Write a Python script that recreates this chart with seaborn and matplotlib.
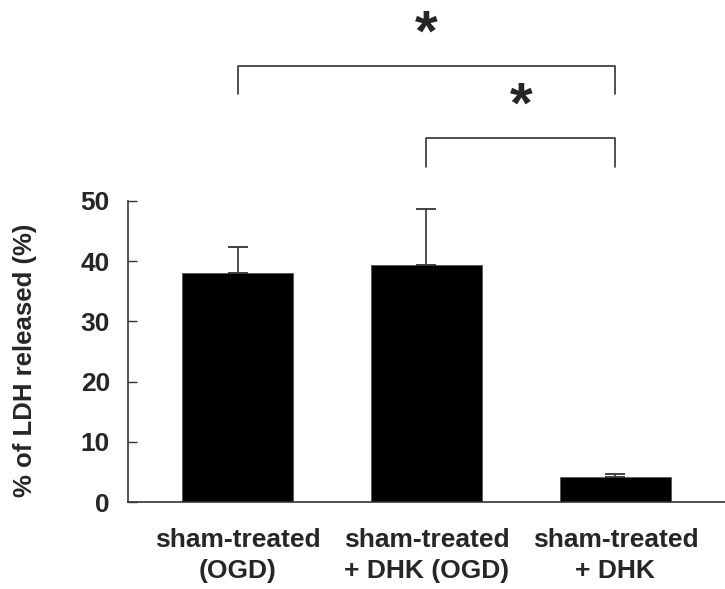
import matplotlib
matplotlib.use("Agg")
import matplotlib.pyplot as plt
import seaborn as sns
import numpy as np
import pandas as pd

categories = ["sham-treated\n(OGD)", "sham-treated\n+ DHK (OGD)", "sham-treated\n+ DHK"]
values = [38.1, 39.4, 4.1]
errors = [4.2, 9.3, 0.55]
yticks = [0, 10, 20, 30, 40, 50]
ylabel = "% of LDH released (%)"
# significance brackets: (left bar index, right bar index, bar-top level, line level, star label)
brackets = [(0, 2, 67.8, 72.5, "*"), (1, 2, 55.6, 60.5, "*")]

sns.set_style("ticks")
plt.rcParams["font.family"] = ["Liberation Sans", "DejaVu Sans"]
plt.rcParams["font.weight"] = "bold"

fig = plt.figure(figsize=(7.25, 5.89), dpi=100)
ax = fig.add_axes([128 / 725, 87 / 589, 1 - 128 / 725, 301 / 589])

df = pd.DataFrame({"group": categories, "value": values})
sns.barplot(data=df, x="group", y="value", color="black", width=0.59,
            saturation=1, edgecolor="#555555", linewidth=0.6, ax=ax, errorbar=None)

xs = np.arange(len(values))
ax.errorbar(xs, values, yerr=[np.zeros(len(errors)), errors], fmt="none",
            ecolor="#333333", elinewidth=1.2, capsize=7.5, capthick=1.3)

ax.set_xlim(-0.58, 2.58)
ax.set_ylim(0, 50)
ax.set_yticks(yticks)
ax.set_yticklabels([str(t) for t in yticks], fontsize=19, fontweight="bold")
ax.tick_params(axis="y", direction="in", length=6.5, width=1.0, color="#333333", pad=13)
ax.tick_params(axis="x", length=0, pad=19)
for lab in ax.get_xticklabels():
    lab.set_fontsize(19)
    lab.set_fontweight("bold")
    lab.set_linespacing(1.35)

ax.set_xlabel("")
ax.set_ylabel(ylabel, fontsize=18.5, fontweight="bold")
ax.yaxis.set_label_coords(-0.152, 0.47)

for s in ["top", "right"]:
    ax.spines[s].set_visible(False)
for s in ["left", "bottom"]:
    ax.spines[s].set_color("#333333")
    ax.spines[s].set_linewidth(1.2)

for i0, i1, ylow, yline, lab in brackets:
    ax.plot([i0, i0, i1, i1], [ylow, yline, yline, ylow], color="#333333",
            lw=1.2, clip_on=False)
    ax.text((i0 + i1) / 2, yline + 5.0, lab,
            ha="center", va="center", fontsize=42, fontweight="bold", clip_on=False)

fig.savefig("out.png", dpi=100)
